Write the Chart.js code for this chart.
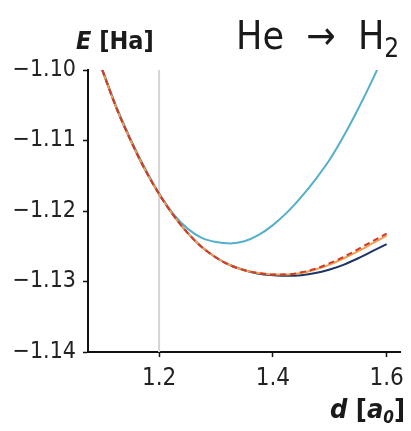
<!DOCTYPE html>
<html>
<head>
<meta charset="utf-8">
<script src="https://cdn.jsdelivr.net/npm/chart.js@4"></script>
<style>
  body { margin: 0; background: #fff; }
  #wrap { position: relative; width: 411px; height: 431px; font-family: "DejaVu Sans Condensed", sans-serif; color: #1a1a1a; }
  .lbl { position: absolute; white-space: nowrap; line-height: 1; }
</style>
</head>
<body>
<div id="wrap">
  <canvas id="statsChart" width="411" height="431"></canvas>
  <div class="lbl" style="left:76px; top:28px; font-size:25px; font-weight:bold;"><i>E</i> [Ha]</div>
  <div class="lbl" style="left:236px; top:16px; font-size:39px;">He &nbsp;→&nbsp; H<sub style="font-size:26px; vertical-align:-8px;">2</sub></div>
  <div class="lbl" style="left:330px; top:395px; font-size:27px; font-weight:bold;"><i>d</i> [<i>a</i><sub style="font-size:17px; vertical-align:-5px;"><i>0</i></sub>]</div>
</div>
<script>
// donnees
const distances = [1.100, 1.125, 1.150, 1.175, 1.200, 1.225, 1.250, 1.275, 1.300, 1.325, 1.350,
                   1.375, 1.400, 1.425, 1.450, 1.475, 1.500, 1.525, 1.550, 1.575, 1.600];
const energyBlue = [-1.0998, -1.1052, -1.1098, -1.1139, -1.1175, -1.1204, -1.1225, -1.1238, -1.1244, -1.1246, -1.1243,
                    -1.1234, -1.1220, -1.1202, -1.1180, -1.1155, -1.1127, -1.1093, -1.1055, -1.1014, -1.0970];
const energyNavy = [-1.1000, -1.1054, -1.1100, -1.1141, -1.1176, -1.1206, -1.1231, -1.1251, -1.1266, -1.1277, -1.1284,
                    -1.1289, -1.1291, -1.1292, -1.1291, -1.1288, -1.1283, -1.1276, -1.1267, -1.1257, -1.1247];
const energyOrange = [-1.1000, -1.1054, -1.1100, -1.1141, -1.1176, -1.1206, -1.1231, -1.1251, -1.1266, -1.1277, -1.1284,
                      -1.1288, -1.1290, -1.1290, -1.1288, -1.1283, -1.1276, -1.1267, -1.1257, -1.1246, -1.1235];
const energyRed = [-1.1000, -1.1054, -1.1100, -1.1141, -1.1176, -1.1206, -1.1231, -1.1251, -1.1266, -1.1277, -1.1284,
                   -1.1288, -1.1290, -1.1290, -1.1287, -1.1282, -1.1274, -1.1265, -1.1254, -1.1243, -1.1232];
const refDistance = 1.2;
const xTicks = [1.2, 1.4, 1.6];
const yTicks = [-1.14, -1.13, -1.12, -1.11, -1.10];

const fontFamily = '"DejaVu Sans Condensed", sans-serif';

function pts(ys) {
    return distances.map((d, i) => ({ x: d, y: ys[i] }));
}

function curve(ys, color, dash) {
    return {
        data: pts(ys),
        borderColor: color,
        borderWidth: 2,
        borderDash: dash || [],
        pointRadius: 0,
        cubicInterpolationMode: 'monotone',
        fill: false
    };
}

document.addEventListener('DOMContentLoaded', function() {
    const ctx = document.getElementById('statsChart').getContext('2d');
    new Chart(ctx, {
        type: 'line',
        data: {
            datasets: [
                curve(energyRed, '#d03a2a', [6, 4]),
                curve(energyOrange, '#f0a050'),
                curve(energyNavy, '#1c3466'),
                curve(energyBlue, '#55aecb'),
                {
                    data: [{ x: refDistance, y: yTicks[0] }, { x: refDistance, y: yTicks[yTicks.length - 1] }],
                    borderColor: '#d4d4d4',
                    borderWidth: 2,
                    pointRadius: 0
                }
            ]
        },
        options: {
            responsive: false,
            devicePixelRatio: 1,
            animation: false,
            layout: { padding: { top: 70, right: 4, left: 0, bottom: 0 } },
            plugins: {
                legend: { display: false },
                tooltip: { enabled: false }
            },
            scales: {
                x: {
                    type: 'linear',
                    min: 1.075,
                    max: 1.625,
                    afterBuildTicks: function(scale) {
                        scale.ticks = xTicks.map(v => ({ value: v }));
                    },
                    afterFit: function(scale) { scale.height = 79; },
                    border: { display: true, color: '#111', width: 2 },
                    grid: { display: true, drawOnChartArea: false, color: '#111', tickLength: 5, tickWidth: 1.5 },
                    ticks: {
                        color: '#222',
                        padding: 7,
                        maxRotation: 0,
                        font: { family: fontFamily, size: 24 },
                        callback: v => v.toFixed(1)
                    }
                },
                y: {
                    min: yTicks[0],
                    max: yTicks[yTicks.length - 1],
                    afterBuildTicks: function(scale) {
                        scale.ticks = yTicks.map(v => ({ value: v }));
                    },
                    afterFit: function(scale) { scale.width = 88; },
                    border: { display: true, color: '#111', width: 2 },
                    grid: { display: true, drawOnChartArea: false, color: '#111', tickLength: 5, tickWidth: 1.5 },
                    ticks: {
                        color: '#222',
                        padding: 7,
                        font: { family: fontFamily, size: 23 },
                        callback: v => '\u2212' + Math.abs(v).toFixed(2)
                    }
                }
            }
        }
    });
});
</script>
</body>
</html>
